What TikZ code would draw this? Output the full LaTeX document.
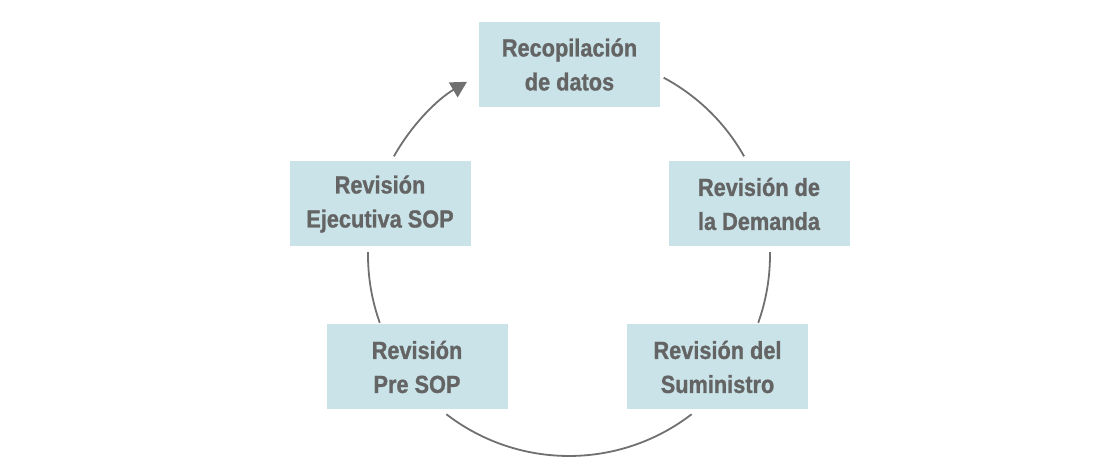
\documentclass[tikz,border=0pt]{standalone}
\usepackage{fontspec}
\setmainfont{Liberation Sans}[FakeStretch=0.88,BoldFeatures={FakeStretch=0.88,FakeBold=1}]
\usetikzlibrary{arrows.meta,calc}
\definecolor{boxfill}{HTML}{C9E3E8}
\definecolor{txtgray}{HTML}{646464}
\definecolor{linegray}{HTML}{707070}
\tikzset{
  stagebox/.style={fill=boxfill,draw=none,minimum width=181pt,minimum height=85pt,inner sep=0pt,align=center,text=txtgray,font=\fontsize{24.7}{34}\selectfont\bfseries},
  conn/.style={draw=linegray,line width=1.8pt},
  connarrow/.style={conn,-{Triangle[length=16pt,width=17pt]}}
}
\begin{document}
\begin{tikzpicture}[x=1pt,y=1pt]
\useasboundingbox (0,0) rectangle (1096,473);
\node[stagebox] (rec) at (569.5,408.5) {Recopilación\\de datos};
\node[stagebox] (dem) at (759,269) {Revisión de\\la Demanda};
\node[stagebox] (sum) at (717.5,106) {Revisión del\\Suministro};
\node[stagebox] (pre) at (417,106) {Revisión\\Pre SOP};
\node[stagebox] (eje) at (380,269) {Revisión\\Ejecutiva SOP};
\coordinate (c) at (569,218);
\coordinate (p1) at ($(c)+(61.9:201)$);
\coordinate (p3) at ($(c)+(0.85:201)$);
\coordinate (p5) at ($(c)+(-52.4:201)$);
\coordinate (p7) at ($(c)+(199.7:201)$);
\coordinate (p9) at ($(c)+(150.6:201)$);
\draw[conn] (p1) arc[start angle=61.9,end angle=29.4,radius=201];
\draw[conn] (p3) arc[start angle=0.85,end angle=-19.7,radius=201];
\draw[conn] (p5) arc[start angle=-52.4,end angle=-127.6,radius=201];
\draw[conn] (p7) arc[start angle=199.7,end angle=179.15,radius=201];
\draw[connarrow] (p9) arc[start angle=150.6,end angle=120.5,radius=201];
\end{tikzpicture}
\end{document}
